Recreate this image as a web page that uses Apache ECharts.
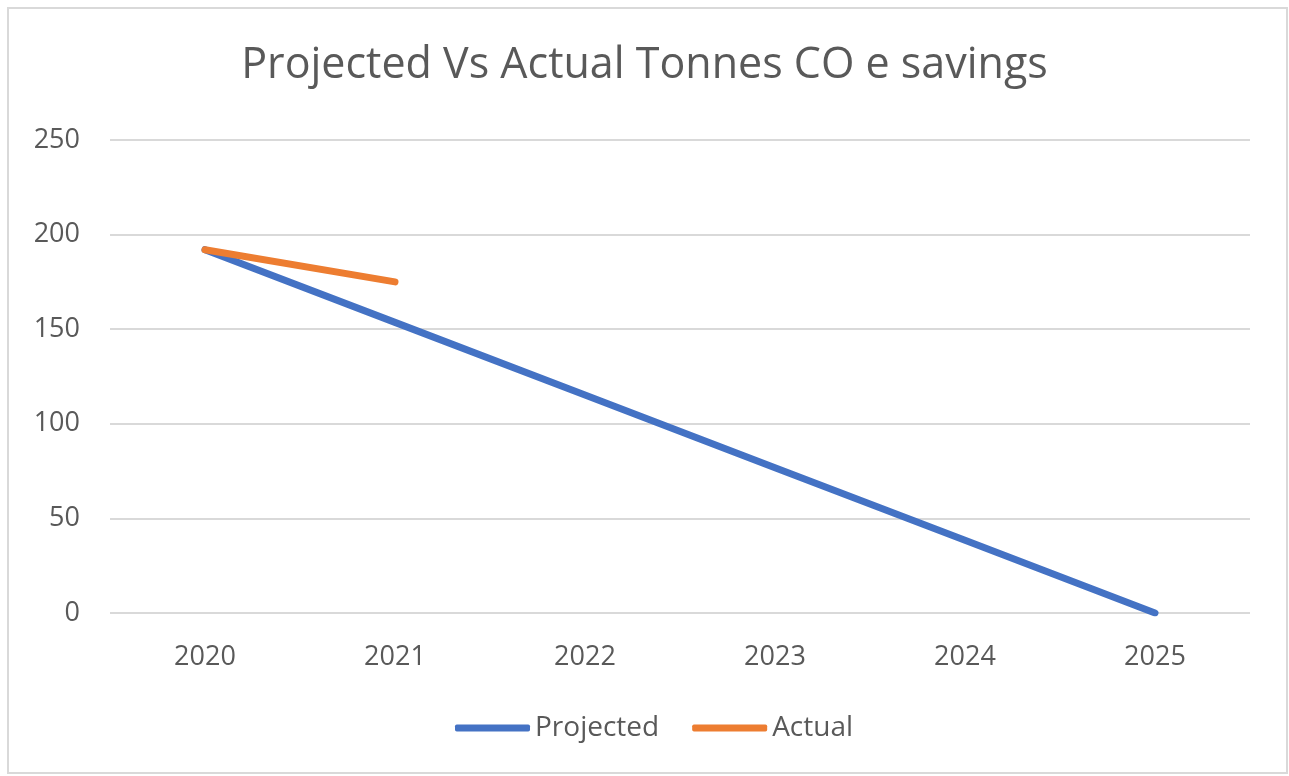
<!DOCTYPE html>
<html lang="en">
<head>
    <meta charset="UTF-8">
    <title>Projected Vs Actual</title>
    <style>
        html, body { margin: 0; padding: 0; background: #fff; }
        #app { position: absolute; left: 0; top: 0; width: 1289px; height: 776px; }
    </style>
</head>
<body>
    <div id="app"></div>
    <script src="https://cdn.jsdelivr.net/npm/echarts@6/dist/echarts.min.js"></script>
    <script>
        const years = ['2020', '2021', '2022', '2023', '2024', '2025'];
        const projected = [192, 153.6, 115.2, 76.8, 38.4, 0];
        const actual = [192, 175, null, null, null, null];

        const textColor = '#595959';
        const fontFamily = 'Open Sans, Liberation Sans, sans-serif';

        const myChart = echarts.init(document.getElementById('app'));
        myChart.setOption({
            backgroundColor: '#fff',
            graphic: [{
                type: 'rect',
                shape: { x: 8, y: 8, width: 1279, height: 765 },
                style: { fill: 'none', stroke: '#d9d9d9', lineWidth: 2 },
                silent: true
            }],
            title: {
                text: 'Projected Vs Actual Tonnes CO e savings',
                left: 'center',
                top: 39,
                textStyle: { color: textColor, fontSize: 43, fontWeight: 'normal', fontFamily: fontFamily }
            },
            legend: {
                bottom: 29,
                left: 450,
                icon: 'roundRect',
                itemWidth: 75,
                itemHeight: 7,
                itemGap: 33,
                textStyle: { color: textColor, fontSize: 28, fontFamily: fontFamily },
                data: ['Projected', 'Actual']
            },
            grid: { left: 110, right: 39, top: 140, bottom: 163, containLabel: false },
            xAxis: {
                type: 'category',
                data: years,
                boundaryGap: true,
                axisLine: { show: false },
                axisTick: { show: false },
                axisLabel: { color: textColor, fontSize: 27, fontFamily: fontFamily, margin: 31 }
            },
            yAxis: {
                type: 'value',
                min: 0,
                max: 250,
                interval: 50,
                axisLine: { show: false },
                axisTick: { show: false },
                splitLine: { lineStyle: { color: '#d9d9d9', width: 2 } },
                axisLabel: { color: textColor, fontSize: 27, fontFamily: fontFamily, margin: 30 }
            },
            series: [
                {
                    name: 'Projected',
                    type: 'line',
                    data: projected,
                    symbol: 'none',
                    color: '#4472C4',
                    lineStyle: { width: 7, cap: 'round' }
                },
                {
                    name: 'Actual',
                    type: 'line',
                    data: actual,
                    symbol: 'none',
                    color: '#ED7D31',
                    lineStyle: { width: 7, cap: 'round' }
                }
            ]
        });
    </script>
</body>
</html>
